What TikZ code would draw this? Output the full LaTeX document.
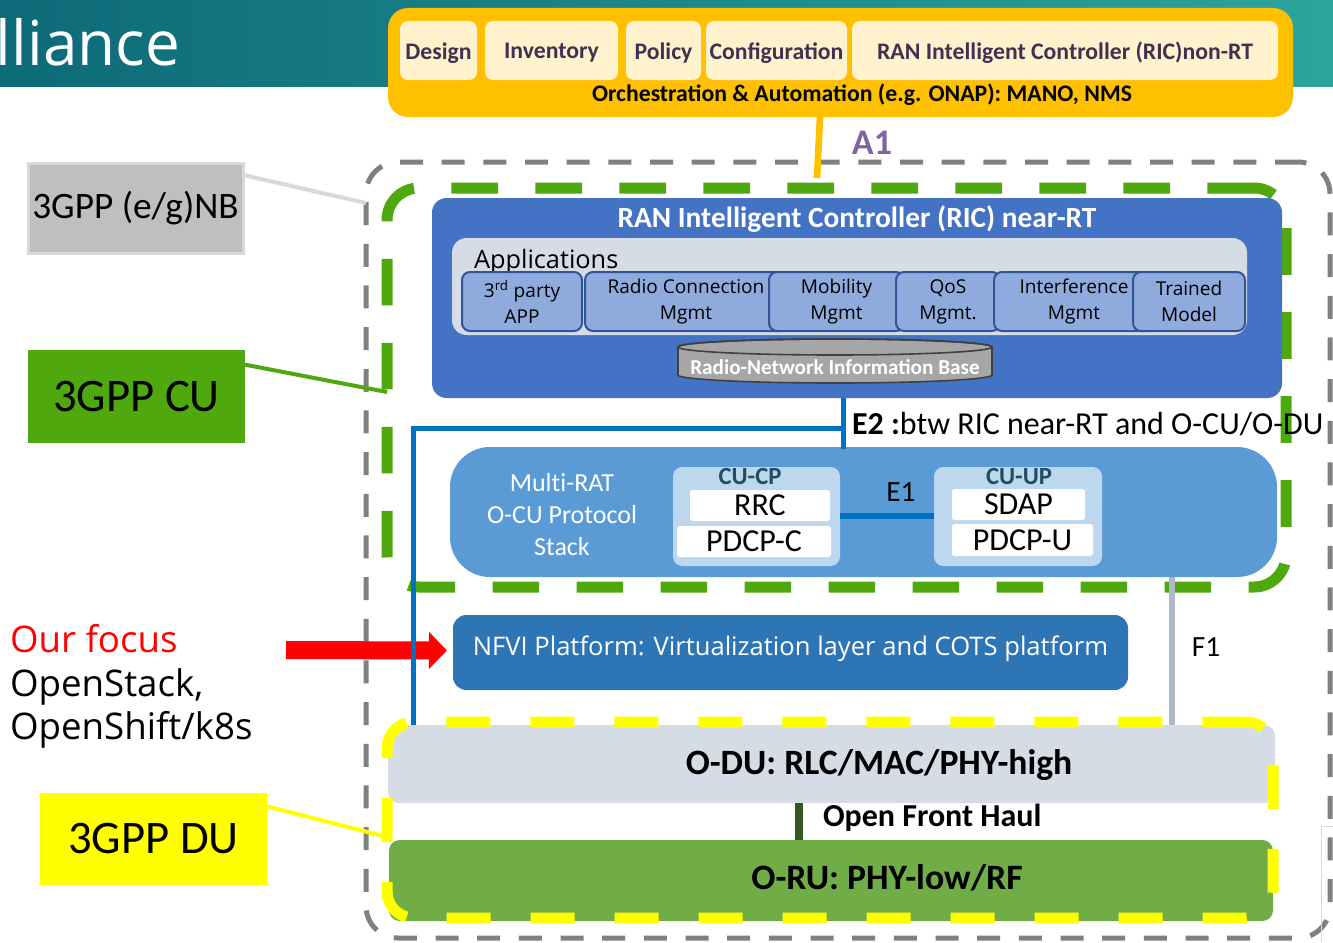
\documentclass[tikz,border=0pt]{standalone}
\usepackage{fontspec}
\setmainfont{Carlito}
\newfontfamily\osans{Open Sans}
\usetikzlibrary{fit,arrows.meta,calc}

\newcommand\fsz[2]{\fontsize{#1}{#2}\selectfont}
% box from two corners plus a centred text node named <name>-t
\newcommand\tbox[6]{%
  \node[fitbox,#1,fit={(#4)(#5)}] (#3) {};
  \node[lbl,#2] (#3-t) at (#3.center) {#6};}

\definecolor{tealLc}{HTML}{0D6A78}
\definecolor{tealRc}{HTML}{2BA59B}
\definecolor{orngc}{HTML}{FFC000}
\definecolor{creamc}{HTML}{FFF2CC}
\definecolor{plumc}{HTML}{3F3151}
\definecolor{a1c}{HTML}{8064A2}
\definecolor{ricc}{HTML}{4472C4}
\definecolor{appbgc}{HTML}{D6DCE5}
\definecolor{appfillc}{HTML}{8FAADC}
\definecolor{applinec}{HTML}{2F5597}
\definecolor{cylc}{HTML}{A6A6A6}
\definecolor{cuc}{HTML}{5B9BD5}
\definecolor{cupalec}{HTML}{BDD7EE}
\definecolor{cutitlec}{HTML}{1F4E61}
\definecolor{linkbluec}{HTML}{0070C0}
\definecolor{nfvic}{HTML}{2E75B6}
\definecolor{f1grayc}{HTML}{ADB9CA}
\definecolor{dugrayc}{HTML}{D6DCE5}
\definecolor{rugreenc}{HTML}{70AD47}
\definecolor{fhgreenc}{HTML}{375623}
\definecolor{cugreenc}{HTML}{4EA80E}
\definecolor{dashgrayc}{HTML}{808080}
\definecolor{nbgrayc}{HTML}{BFBFBF}
\definecolor{nbedgec}{HTML}{D9D9D9}
\definecolor{ylwc}{HTML}{FFFF00}
\definecolor{redc}{HTML}{FF0000}

\begin{document}
\begin{tikzpicture}[x=0.75pt,y=-0.75pt,
  lbl/.style={inner sep=0pt, outer sep=0pt},
  fitbox/.style={inner sep=0pt, outer sep=0pt},
  creambox/.style={fill=creamc, rounded corners=6pt},
  creamtext/.style={text=plumc, yshift=-2pt, font=\bfseries\fsz{17.8}{20}},
  appbox/.style={fill=appfillc, draw=applinec, line width=1.5pt, rounded corners=6pt},
  apptext/.style={align=center, font=\osans\fsz{14.3}{19.5}},
  cellbox/.style={fill=white, rounded corners=2pt},
  celltext/.style={font=\fsz{24}{26}},
  subbox/.style={fitbox, fill=cupalec, rounded corners=7pt},
  subtitle/.style={lbl, text=cutitlec, font=\bfseries\fsz{18.5}{20}},
  tagtext/.style={font=\fsz{35}{40}},
  tagline/.style={line width=3pt},
  zone/.style={fitbox, line width=8.25pt, dash pattern=on 35pt off 28pt, rounded corners=24pt},
  link/.style={line width=4.5pt},
  side/.style={lbl, anchor=base west, font=\osans\fsz{27.5}{32}}
]
\useasboundingbox (0,0) rectangle (1333,942);

% header band
\shade[left color=tealLc, right color=tealRc] (0,0) rectangle (1333,86);
\node[lbl, anchor=base west, text=white, font=\osans\fsz{46.5}{52}] (head) at (-4,65) {lliance};

% orchestration layer
\node[fitbox, fill=orngc, rounded corners=15pt, fit={(388,8)(1293,117)}] (orch) {};
\tbox{creambox}{creamtext}{design}{400,21}{477,80}{Design}
\tbox{creambox}{creamtext}{inventory}{485,21}{618,80}{Inventory}
\tbox{creambox}{creamtext}{policy}{626,21}{701,80}{Policy}
\tbox{creambox}{creamtext}{config}{706,21}{847,80}{Configuration}
\tbox{creambox}{creamtext}{nonrt}{852,21}{1278,80}{RAN Intelligent Controller (RIC)non-RT}
\node[lbl, font=\bfseries\fsz{17.8}{20}] (orchtxt) at (862,95) {Orchestration \& Automation (e.g. ONAP): MANO, NMS};

% start of the focus arrow
\coordinate (focusstart) at (286,650);

% outer gNB frame and CU frame
\node[zone, draw=dashgrayc, line width=3.75pt, dash pattern=on 17.25pt off 14pt, fit={(366,162)(1330,938)}] (gnbzone) {};
\node[zone, draw=cugreenc, fit={(387,188)(1286,587)}] (cuzone) {};

% A1 interface
\coordinate (a1end) at (817,178);
\draw[orngc, line width=5pt] (820,0 |- orch.south) -- (a1end);
\node[lbl, text=a1c, font=\bfseries\fsz{27}{30}] (a1) at (872,143) {A1};

% near-RT RIC
\node[fitbox, fill=ricc, rounded corners=11pt, fit={(432,198)(1282,398)}] (ric) {};
\node[lbl, text=white, font=\bfseries\fsz{22}{26}] (rictitle) at (857,219) {RAN Intelligent Controller (RIC) near-RT};
\node[fitbox, fill=appbgc, rounded corners=11pt, fit={(452,238)(1247,335)}] (apps) {};
\node[lbl, anchor=base west, font=\osans\fsz{19}{22}] (appstitle) at (474,268) {Applications};
\tbox{appbox}{apptext}{app3}{462,272}{582,331}{3\textsuperscript{rd} party\\APP}
\tbox{appbox}{apptext}{apprc}{585,272}{787,331}{Radio Connection\\Mgmt}
\tbox{appbox}{apptext}{appmob}{769,272}{904,331}{Mobility\\Mgmt}
\tbox{appbox}{apptext}{appqos}{896,272}{1000,331}{QoS\\Mgmt.}
\tbox{appbox}{apptext}{appint}{994,272}{1154,331}{Interference\\Mgmt}
\tbox{appbox}{apptext}{apptm}{1133,272}{1245,331}{Trained\\Model}

% radio-network information base
\path[fill=cylc, draw=black!75, line width=1.2pt] (678,347) -- (678,375)
  arc[start angle=180, end angle=360, x radius=117.75pt, y radius=6pt] -- (992,347)
  arc[start angle=0, end angle=180, x radius=117.75pt, y radius=6pt] -- cycle;
\draw[black!75, line width=1.2pt] (835,347) ellipse[x radius=117.75pt, y radius=6pt];
\node[lbl, text=white, font=\bfseries\fsz{15.9}{18}] (rnib) at (835,367) {Radio-Network Information Base};

% O-CU
\node[fitbox, fill=cuc, rounded corners=30pt, fit={(450,447)(1277,577)}] (cu) {};
\node[lbl, text=white, align=center, font=\addfontfeatures{Ligatures=NoCommon}\fsz{19.5}{24}] (cutxt) at (562,515) {Multi-RAT\\O-CU Protocol\\Stack};
\node[subbox, fit={(673,467)(840,566)}] (cucp) {};
\node[subtitle] (cucpt) at (750,476) {CU-CP};
\tbox{cellbox}{celltext}{rrc}{690,490}{830,521}{RRC}
\tbox{cellbox}{celltext}{pdcpc}{677,526}{831,557}{PDCP-C}
\node[subbox, fit={(934,467)(1102,566)}] (cuup) {};
\node[subtitle] (cuupt) at (1019,476) {CU-UP};
\tbox{cellbox}{celltext}{sdap}{952,489}{1085,520}{SDAP}
\tbox{cellbox}{celltext}{pdcpu}{952,524}{1093,556}{PDCP-U}
\draw[linkbluec, link] (cucp.east |- 0,516) -- (cuup.west |- 0,516);
\node[lbl, font=\fsz{22}{24}] (e1) at (901,492) {E1};

% NFVI
\tbox{fill=nfvic, rounded corners=10pt}{text=white, yshift=3pt, font=\osans\fsz{19.2}{22}}{nfvi}{453,615}{1128,690}{NFVI Platform: Virtualization layer and COTS platform}

% O-DU / O-RU
\node[fitbox, fill=dugrayc, rounded corners=8pt, fit={(388,725)(1275,803)}] (du) {};
\node[lbl, font=\bfseries\fsz{26.7}{30}] (dutxt) at (879,765) {O-DU: RLC/MAC/PHY-high};
\node[fitbox, fill=rugreenc, rounded corners=8pt, fit={(389,840)(1273,921)}] (ru) {};
\node[lbl, font=\bfseries\fsz{26.8}{30}] (rutxt) at (887,878) {O-RU: PHY-low/RF};
\draw[fhgreenc, line width=5.5pt] (799,0 |- du.south) -- (799,0 |- ru.north);
\node[lbl, anchor=west, font=\bfseries\fsz{24}{28}] (fh) at (823,818) {Open Front Haul};

% F1 and E2 interfaces, focus arrow
\draw[f1grayc, link] (1172,0 |- cu.south) -- (1172,0 |- du.north);
\node[lbl, font=\fsz{22}{24}] (f1) at (1206,647) {F1};
\draw[redc, line width=13.5pt, -{Triangle[length=13.5pt, width=27pt]}] (focusstart) -- ([xshift=-4.5pt,yshift=1.5pt]nfvi.west);
\draw[linkbluec, line width=3.75pt] (843,0 |- ric.south) -- ([yshift=-1.5pt]843,0 |- cu.north);
\draw[linkbluec, line width=3.75pt] (845,428) -| (413,0 |- du.north);
\node[lbl, anchor=west, font=\fsz{24}{28}] (e2) at (852,424) {\textbf{E2 :}btw RIC near-RT and O-CU/O-DU};

% DU frame
\node[zone, draw=ylwc, rounded corners=20pt, dash pattern=on 33pt off 30pt, fit={(387,722)(1273,918)}] (duzone) {};

% side tags
\tbox{fill=nbgrayc, draw=nbedgec, line width=2.25pt}{font=\fsz{28}{32}}{nb}{28,163}{243,253}{3GPP (e/g)NB}
\tbox{fill=cugreenc}{tagtext}{cutag}{28,350}{245,443}{3GPP CU}
\tbox{fill=ylwc}{tagtext}{dutag}{40,793}{267,885}{3GPP DU}
\draw[nbedgec, tagline] ([yshift=-9pt]nb.north east) -- (gnbzone.west |- 0,203);
\draw[cugreenc, tagline] ([yshift=-11pt]cutag.north east) -- (cuzone.west |- 0,392);
\draw[ylwc, tagline] ([yshift=-10pt]dutag.north east) -- (duzone.west |- 0,837);

% focus text
\node[side, text=redc] (focus) at (10,652) {Our focus};
\node[side] (ostack) at (10,696) {OpenStack,};
\node[side] (oshift) at (10,739) {OpenShift/k8s};

% edge of a neighbouring frame
\draw[nbedgec, line width=0.75pt] (1333,826) -- (1321,826) -- (1321,942);
\end{tikzpicture}
\end{document}
